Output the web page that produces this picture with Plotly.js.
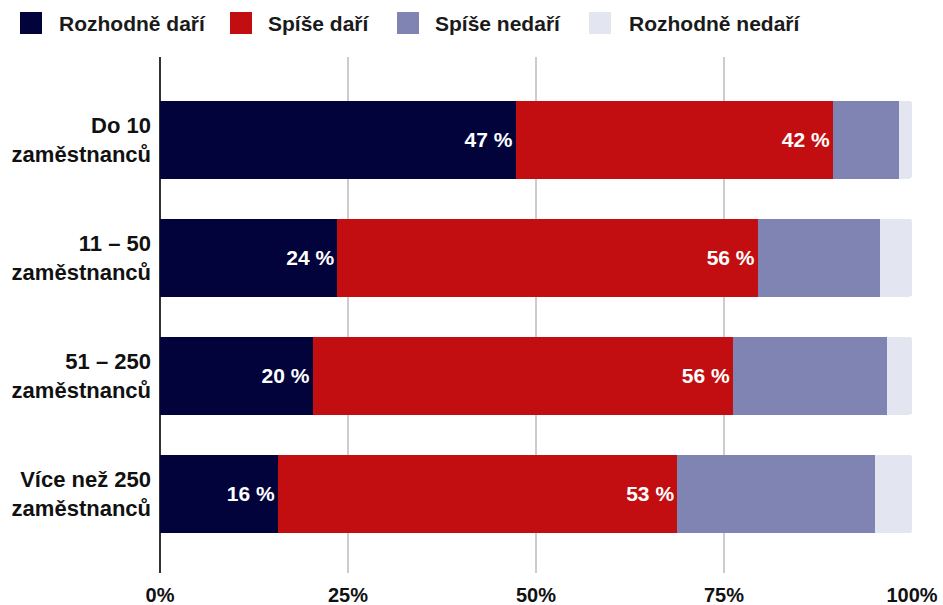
<!DOCTYPE html>
<html><head><meta charset="utf-8">
<script src="https://cdn.plot.ly/plotly-3.0.1.min.js"></script>
<style>body{margin:0;background:#fff}#chart{width:943px;height:605px}</style>
</head><body><div id="chart"></div>
<script>
const categories = ["Do 10<br>zaměstnanců", "11 – 50<br>zaměstnanců", "51 – 250<br>zaměstnanců", "Více než 250<br>zaměstnanců"];
const seriesNames = ["Rozhodně daří", "Spíše daří", "Spíše nedaří", "Rozhodně nedaří"];
const rozhodneDari = [47.3, 23.6, 20.3, 15.7];
const spiseDari = [42.2, 55.9, 55.9, 53.1];
const spiseNedari = [8.8, 16.2, 20.5, 26.3];
const rozhodneNedari = [1.7, 4.3, 3.3, 4.9];
const xTickVals = [0, 25, 50, 75, 100];
const xTickText = ["0%", "25%", "50%", "75%", "100%"];

const colors = ["#02033a", "#c20e10", "#7f84b2", "#e3e5f0"];
const values = [rozhodneDari, spiseDari, spiseNedari, rozhodneNedari];
const font = "Liberation Sans, Arial, sans-serif";

const W = 943, H = 605;
const M = {l: 160, r: 31, t: 57, b: 32};
const pw = W - M.l - M.r, ph = H - M.t - M.b;
const px2x = p => (p - M.l) / pw;
const py2y = p => (H - M.b - p) / ph;

const traces = values.map((v, i) => ({
  type: "bar", orientation: "h",
  name: seriesNames[i], x: v, y: categories,
  marker: {color: colors[i], line: {width: 0}},
  width: 0.66,
  texttemplate: i < 2 ? "<b>%{x:.0f} %</b>" : "",
  textposition: i < 2 ? "inside" : "none",
  insidetextanchor: "end",
  textfont: {color: "#ffffff", size: 21, family: font},
  hoverinfo: "x+name",
  showlegend: false
}));

// Legend drawn as swatches + text (layout positions in pixels)
const legendSwatchX = [20, 230, 397, 589];
const legendTextX = [57, 266, 433, 627];
const legendY = 23, sw = 22;
const shapes = seriesNames.map((n, i) => ({
  type: "rect", xref: "paper", yref: "paper",
  x0: px2x(legendSwatchX[i]), x1: px2x(legendSwatchX[i] + sw),
  y0: py2y(legendY + sw / 2), y1: py2y(legendY - sw / 2),
  fillcolor: colors[i], line: {width: 0}, layer: "above"
}));
const annotations = seriesNames.map((n, i) => ({
  xref: "paper", yref: "paper", x: px2x(legendTextX[i]), y: py2y(legendY),
  xanchor: "left", yanchor: "middle", showarrow: false,
  text: "<b>" + n + "</b>", font: {size: 21, family: font, color: "#1a1a1a"}
}));

const layout = {
  width: W, height: H,
  margin: {l: M.l, r: M.r, t: M.t, b: M.b, autoexpand: false},
  barmode: "stack",
  barcornerradius: 3,
  paper_bgcolor: "#fff", plot_bgcolor: "#fff",
  font: {family: font, color: "#111", size: 18},
  showlegend: false,
  shapes: shapes, annotations: annotations,
  xaxis: {range: [0, 100], tickvals: xTickVals, ticktext: xTickText,
          showgrid: true, gridcolor: "#cccccc", gridwidth: 1.5,
          zeroline: true, zerolinecolor: "#333", zerolinewidth: 1.5,
          showline: false, ticks: "", ticklen: 0, ticklabelstandoff: 8,
          tickfont: {size: 20, family: font, color: "#111", weight: "bold"}},
  yaxis: {type: "category", categoryarray: categories, categoryorder: "array",
          range: [3.67, -0.7], showgrid: false, zeroline: false, showline: false,
          ticks: "", ticklen: 0, ticklabelstandoff: 8,
          tickfont: {size: 22, family: font, color: "#111", weight: "bold"}}
};
Plotly.newPlot("chart", traces, layout, {displayModeBar: false, staticPlot: true});
</script></body></html>
